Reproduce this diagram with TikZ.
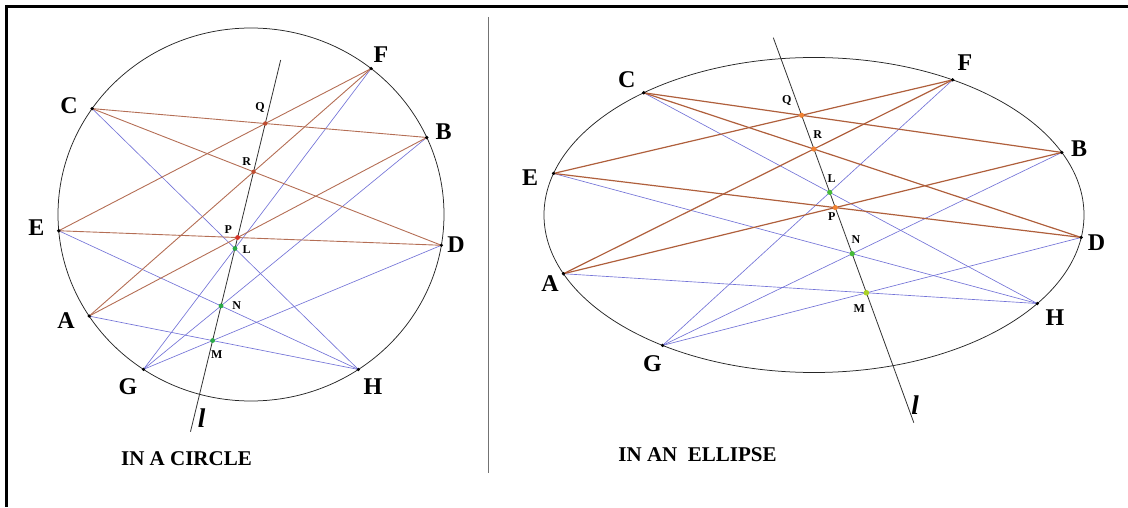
\documentclass[tikz,border=0pt]{standalone}
\usepackage{fontspec}
\setmainfont{Liberation Serif}
\usetikzlibrary{calc,intersections}
\definecolor{brnA}{RGB}{180,110,85}
\definecolor{brnB}{RGB}{175,95,60}
\definecolor{bluA}{RGB}{115,115,215}
\definecolor{redd}{RGB}{215,50,40}
\definecolor{grn}{RGB}{40,170,70}
\definecolor{orng}{RGB}{240,130,50}
\definecolor{ylg}{RGB}{170,210,40}
\begin{document}
\begin{tikzpicture}[x=1pt,y=1pt,
  conic/.style={draw=black!85,line width=0.75pt},
  bline/.style={draw=brnA,line width=0.9pt},
  bline2/.style={draw=brnB,line width=1.2pt},
  pline/.style={draw=bluA,line width=0.65pt},
  lline/.style={draw=black!80,line width=0.8pt},
  vdot/.style={fill=black},
  biglab/.style={font=\fontsize{24}{28}\selectfont\bfseries,inner sep=0pt},
  smlab/.style={font=\fontsize{12}{14}\selectfont\bfseries,inner sep=0pt},
  llab/.style={font=\fontsize{27}{30}\selectfont\bfseries\itshape,inner sep=0pt},
  title/.style={font=\fontsize{21}{24}\selectfont\bfseries,inner sep=0pt}]
\useasboundingbox (0,0) rectangle (1128,507);
% frame
\coordinate (fTL) at (5,500.5);
\coordinate (fTR) at (1128,500.5);
\coordinate (fL1) at (6.5,502);
\coordinate (fL2) at (6.5,0);
\draw[line width=3pt] (fTL) -- (fTR);
\draw[line width=3pt] (fL1) -- (fL2);
\coordinate (dv1) at (488.5,490);
\coordinate (dv2) at (488.5,34);
\draw[black!55,line width=1pt] (dv1) -- (dv2);

% horizontal guides for the ends of the lines l
\coordinate (hc1) at (0,447);   \coordinate (hc2) at (1128,447);
\coordinate (hc3) at (0,75.3);  \coordinate (hc4) at (1128,75.3);
\coordinate (he1) at (0,469.3); \coordinate (he2) at (1128,469.3);
\coordinate (he3) at (0,84.3);  \coordinate (he4) at (1128,84.3);

% ================= CIRCLE =================
\coordinate (cO) at (251,292.5);
\path[name path=circ] (cO) ellipse [x radius=193, y radius=186.5];
\coordinate (cC) at ($(cO)+(145.4:193 and 186.5)$);
\coordinate (cF) at ($(cO)+(51.5:193 and 186.5)$);
\coordinate (cB) at ($(cO)+(24.4:193 and 186.5)$);
\coordinate (cE) at ($(cO)+(185.0:193 and 186.5)$);
\coordinate (cD) at ($(cO)+(350.5:193 and 186.5)$);
\coordinate (cA) at ($(cO)+(213.0:193 and 186.5)$);
\coordinate (cH) at ($(cO)+(303.8:193 and 186.5)$);
\coordinate (cQ) at (intersection of cC--cB and cE--cF);
\coordinate (cR) at (intersection of cC--cD and cA--cF);
\coordinate (cP) at (intersection of cE--cD and cA--cB);
\coordinate (cL) at (intersection of cC--cH and cQ--cP);
\path[name path=cfl] ($(cF)!0.1!(cL)$) -- ($(cF)!3!(cL)$);
\path[name intersections={of=circ and cfl, by={cG}}];
\coordinate (cN) at (intersection of cE--cH and cQ--cP);
\coordinate (cM) at (intersection of cA--cH and cQ--cP);
\coordinate (cl1) at (intersection of cQ--cP and hc1--hc2);
\coordinate (cl2) at (intersection of cQ--cP and hc3--hc4);

\draw[pline] (cC) -- (cH);
\draw[pline] (cE) -- (cH);
\draw[pline] (cA) -- (cH);
\draw[pline] (cG) -- (cF);
\draw[pline] (cG) -- (cB);
\draw[pline] (cG) -- (cD);
\draw[bline] (cC) -- (cB);
\draw[bline] (cE) -- (cF);
\draw[bline] (cC) -- (cD);
\draw[bline] (cA) -- (cF);
\draw[bline] (cE) -- (cD);
\draw[bline] (cA) -- (cB);
\draw[conic] (cO) ellipse [x radius=193, y radius=186.5];
\draw[lline] (cl1) -- (cl2);
\foreach \p in {cC,cF,cB,cE,cD,cA,cG,cH} \fill[vdot] (\p) circle (1.8);
\foreach \p in {cQ,cR} \fill[brnB!80!red] (\p) circle (2.2);
\fill[redd] (cP) circle (2.4);
\foreach \p in {cL,cN,cM} \fill[grn] (\p) circle (2.4);

\node[biglab] (tcC) at (69,401) {C};
\node[biglab] (tcF) at (381,452) {F};
\node[biglab] (tcB) at (443.5,375.5) {B};
\node[biglab] (tcE) at (36.5,279) {E};
\node[biglab] (tcD) at (456,262) {D};
\node[biglab] (tcA) at (66,186) {A};
\node[biglab] (tcG) at (128,120) {G};
\node[biglab] (tcH) at (373,120) {H};
\node[llab] (tcl) at (201.7,89) {l};
\node[smlab] (tcQ) at (260,399) {Q};
\node[smlab] (tcR) at (246.7,345.3) {R};
\node[smlab] (tcP) at (228.3,277.7) {P};
\node[smlab] (tcL) at (246.7,257) {L};
\node[smlab] (tcN) at (236.7,201) {N};
\node[smlab] (tcM) at (216.7,152) {M};
\node[title] (tcT) at (186.5,48.5) {IN A CIRCLE};

% ================= ELLIPSE =================
\coordinate (eO) at (814,292);
\path[name path=ell] (eO) ellipse [x radius=270, y radius=157.5];
\coordinate (eC) at ($(eO)+(129.1:270 and 157.5)$);
\coordinate (eF) at ($(eO)+(59.1:270 and 157.5)$);
\coordinate (eB) at ($(eO)+(23.4:270 and 157.5)$);
\coordinate (eE) at ($(eO)+(164.7:270 and 157.5)$);
\coordinate (eD) at ($(eO)+(351.8:270 and 157.5)$);
\coordinate (eA) at ($(eO)+(201.9:270 and 157.5)$);
\coordinate (eH) at ($(eO)+(325.8:270 and 157.5)$);
\coordinate (eQ) at (intersection of eC--eB and eE--eF);
\coordinate (eR) at (intersection of eC--eD and eA--eF);
\coordinate (eP) at (intersection of eE--eD and eA--eB);
\coordinate (eL) at (intersection of eC--eH and eQ--eP);
\path[name path=efl] ($(eF)!0.1!(eL)$) -- ($(eF)!3!(eL)$);
\path[name intersections={of=ell and efl, by={eG}}];
\coordinate (eN) at (intersection of eE--eH and eQ--eP);
\coordinate (eM) at (intersection of eA--eH and eQ--eP);
\coordinate (el1) at (intersection of eQ--eP and he1--he2);
\coordinate (el2) at (intersection of eQ--eP and he3--he4);

\draw[pline] (eC) -- (eH);
\draw[pline] (eE) -- (eH);
\draw[pline] (eA) -- (eH);
\draw[pline] (eG) -- (eF);
\draw[pline] (eG) -- (eB);
\draw[pline] (eG) -- (eD);
\draw[bline2] (eC) -- (eB);
\draw[bline2] (eE) -- (eF);
\draw[bline2] (eC) -- (eD);
\draw[bline2] (eA) -- (eF);
\draw[bline2] (eE) -- (eD);
\draw[bline2] (eA) -- (eB);
\draw[conic] (eO) ellipse [x radius=270, y radius=157.5];
\draw[lline] (el1) -- (el2);
\foreach \p in {eC,eF,eB,eE,eD,eA,eG,eH} \fill[vdot] (\p) circle (1.8);
\foreach \p in {eQ,eR,eP} \fill[orng] (\p) circle (2.6);
\foreach \p in {eL,eN} \fill[grn!80!lime] (\p) circle (2.6);
\fill[ylg] (eM) circle (2.8);

\node[biglab] (teC) at (626.7,427) {C};
\node[biglab] (teF) at (965,444.5) {F};
\node[biglab] (teB) at (1079,358.7) {B};
\node[biglab] (teE) at (530,329) {E};
\node[biglab] (teD) at (1096.5,264) {D};
\node[biglab] (teA) at (550,223.5) {A};
\node[biglab] (teG) at (652.5,143) {G};
\node[biglab] (teH) at (1055,189) {H};
\node[llab] (tel) at (915,102) {l};
\node[smlab] (teQ) at (786.7,406) {Q};
\node[smlab] (teR) at (817.7,372.7) {R};
\node[smlab] (teL) at (831.7,328.7) {L};
\node[smlab] (teP) at (831.7,290.3) {P};
\node[smlab] (teN) at (856,267.7) {N};
\node[smlab] (teM) at (859.3,198.7) {M};
\node[title] (teT) at (697.5,52) {IN AN\ \ ELLIPSE};
\end{tikzpicture}
\end{document}
